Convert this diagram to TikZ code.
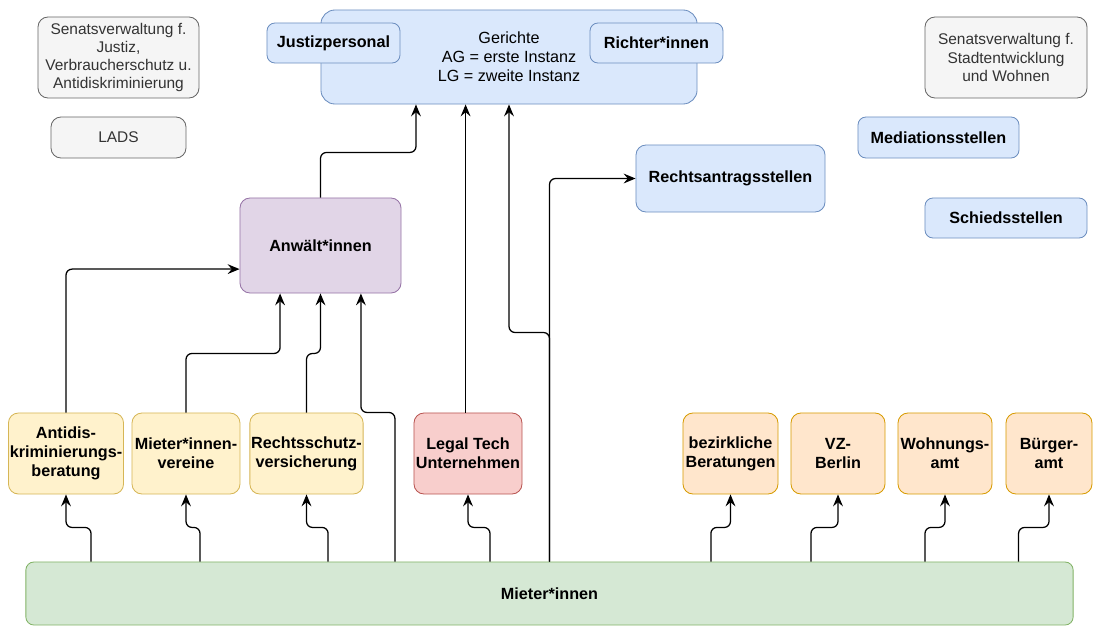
\documentclass[tikz,border=0pt]{standalone}
\usepackage{fontspec}
\setmainfont{Liberation Sans}
\usepackage{tikz}
\usetikzlibrary{arrows.meta,calc}
\usetikzlibrary{positioning}
\definecolor{clrGrayFill}{HTML}{F5F5F5}
\definecolor{clrGrayLine}{HTML}{666666}
\definecolor{clrGrayText}{HTML}{333333}
\definecolor{clrBlueFill}{HTML}{DAE8FC}
\definecolor{clrBlueLine}{HTML}{6C8EBF}
\definecolor{clrYellowFill}{HTML}{FFF2CC}
\definecolor{clrYellowLine}{HTML}{D6B656}
\definecolor{clrRedFill}{HTML}{F8CECC}
\definecolor{clrRedLine}{HTML}{B85450}
\definecolor{clrPurpleFill}{HTML}{E1D5E7}
\definecolor{clrPurpleLine}{HTML}{9673A6}
\definecolor{clrOrangeFill}{HTML}{FFE6CC}
\definecolor{clrOrangeLine}{HTML}{D79B00}
\definecolor{clrGreenFill}{HTML}{D5E8D4}
\definecolor{clrGreenLine}{HTML}{82B366}
\tikzstyle{box_style0}=[draw, rounded corners=2.5mm, anchor=center, align=center,
inner sep=1pt, line width=0.6pt, font=\fontsize{11.5}{13.5}\selectfont\bfseries]
\tikzstyle{gray_box}=[box_style0, fill=clrGrayFill, draw=clrGrayLine, text=clrGrayText,
font=\fontsize{11}{13}\selectfont\mdseries]
\tikzstyle{blue_box}=[box_style0, fill=clrBlueFill, draw=clrBlueLine]
\tikzstyle{yellow_box}=[box_style0, fill=clrYellowFill, draw=clrYellowLine,
minimum width=2.7cm, minimum height=2.025cm]
\tikzstyle{orange_box}=[box_style0, fill=clrOrangeFill, draw=clrOrangeLine,
minimum width=2.35cm, minimum height=2.025cm]
\tikzstyle{myarrow}=[-{Stealth[length=8.5pt,width=7pt,inset=3pt]}, line width=0.9pt, rounded corners=1.5mm]

\begin{document}
\begin{tikzpicture}[x=0.025cm, y=-0.025cm]
		\useasboundingbox (0,0) rectangle (1094,626) ;

		% Verwaltung
		\node[gray_box, minimum width=4.025cm, minimum height=2.025cm] (senatJustiz) at (118.5,57.5) {Senatsverwaltung f.\\Justiz,\\Verbraucherschutz u.\\Antidiskriminierung} ;
		\node[gray_box, minimum width=3.375cm, minimum height=1.025cm] (lads) at (118.5,137.5) {LADS} ;
		\node[gray_box, minimum width=4.05cm, minimum height=2.025cm] (senatStadt) at (1006,57.5) {Senatsverwaltung f.\\Stadtentwicklung\\und Wohnen} ;

		% Gerichte
		\node[blue_box, rounded corners=3.5mm, font=\fontsize{11.5}{13.5}\selectfont\mdseries, minimum width=9.4cm, minimum height=2.35cm] (gerichte) at (509,57) {Gerichte\\AG = erste Instanz\\LG = zweite Instanz} ;
		\node[blue_box, rounded corners=2mm, minimum width=3.325cm, minimum height=1cm] (justiz) at (333.5,43) {Justizpersonal} ;
		\node[blue_box, rounded corners=2mm, minimum width=3.325cm, minimum height=1cm] (richter) at (656.5,43) {Richter*innen} ;

		\node[blue_box, minimum width=4.725cm, minimum height=1.675cm] (antrag) at (730.5,178.5) {Rechtsantragsstellen} ;
		\node[blue_box, rounded corners=2mm, minimum width=4.025cm, minimum height=1.025cm] (mediation) at (938.5,137.5) {Mediationsstellen} ;
		\node[blue_box, rounded corners=2mm, minimum width=4.05cm, minimum height=1cm] (schied) at (1006,218) {Schiedsstellen} ;

		\node[box_style0, fill=clrPurpleFill, draw=clrPurpleLine, minimum width=4.025cm, minimum height=2.375cm] (anwalt) at (320.5,245.5) {Anwält*innen} ;

		% Beratung
		\node[yellow_box] (antidis) at (66,453.5) {Antidis-\\kriminierungs-\\beratung} ;
		\node[yellow_box] (vereine) at (186,453.5) {Mieter*innen-\\vereine} ;
		\node[yellow_box, minimum width=2.725cm] (rschutz) at (306.5,453.5) {Rechtsschutz-\\versicherung} ;
		\node[box_style0, fill=clrRedFill, draw=clrRedLine, minimum width=2.7cm, minimum height=2.025cm] (legal) at (468,453.5) {Legal Tech\\Unternehmen} ;

		\node[orange_box, minimum width=2.375cm] (bezirk) at (730.5,453.5) {bezirkliche\\Beratungen} ;
		\node[orange_box] (vz) at (838,453.5) {VZ-\\Berlin} ;
		\node[orange_box] (wohnung) at (945,453.5) {Wohnungs-\\amt} ;
		\node[orange_box, minimum width=2.15cm] (buerger) at (1049,453.5) {Bürger-\\amt} ;

		\node[box_style0, fill=clrGreenFill, draw=clrGreenLine, rounded corners=2mm, minimum width=26.175cm, minimum height=1.575cm] (mieter) at (549.5,593.5) {Mieter*innen} ;

		% Mieter*innen -> Beratung
		\draw[myarrow] ([xshift=6.25mm]antidis.south |- mieter.north) |- ([yshift=-8.25mm]antidis.south) -- (antidis.south) ;
		\draw[myarrow] ([xshift=3.5mm]vereine.south |- mieter.north) |- ([yshift=-8.25mm]vereine.south) -- (vereine.south) ;
		\draw[myarrow] ([xshift=5.4mm]rschutz.south |- mieter.north) |- ([yshift=-8.25mm]rschutz.south) -- (rschutz.south) ;
		\draw[myarrow] ([xshift=5.5mm]legal.south |- mieter.north) |- ([yshift=-8.25mm]legal.south) -- (legal.south) ;
		\draw[myarrow] ([xshift=-4.9mm]bezirk.south |- mieter.north) |- ([yshift=-8.25mm]bezirk.south) -- (bezirk.south) ;
		\draw[myarrow] ([xshift=-6.75mm]vz.south |- mieter.north) |- ([yshift=-8.25mm]vz.south) -- (vz.south) ;
		\draw[myarrow] ([xshift=-5mm]wohnung.south |- mieter.north) |- ([yshift=-8.25mm]wohnung.south) -- (wohnung.south) ;
		\draw[myarrow] ([xshift=-7.6mm]buerger.south |- mieter.north) |- ([yshift=-8.25mm]buerger.south) -- (buerger.south) ;

		% -> Anwält*innen
		\draw[myarrow] (antidis.north) |- ([yshift=-5.9mm]anwalt.west) ;
		\draw[myarrow] (vereine.north) |- ([xshift=-10.1mm,yshift=-15mm]anwalt.south) -- ([xshift=-10.1mm]anwalt.south) ;
		\draw[myarrow] (rschutz.north) |- ([yshift=-15mm]anwalt.south) -- (anwalt.south) ;
		\draw[myarrow] ([xshift=18.6mm]anwalt.south |- mieter.north) |- ([xshift=10.1mm,yshift=-29.75mm]anwalt.south) -- ([xshift=10.1mm]anwalt.south) ;

		% -> Gerichte
		\draw[myarrow] (anwalt.north) |- ([xshift=-23.25mm,yshift=-12mm]gerichte.south) -- ([xshift=-23.25mm]gerichte.south) ;
		\draw[myarrow] ([xshift=-0.6mm]legal.north) -- ([xshift=-0.6mm]legal.north |- gerichte.south) ;
		\draw[myarrow] (mieter.north) |- ([yshift=-57mm]gerichte.south) -- (gerichte.south) ;
		\draw[myarrow] (mieter.north) |- (antrag.west) ;

	\end{tikzpicture}
\end{document}
